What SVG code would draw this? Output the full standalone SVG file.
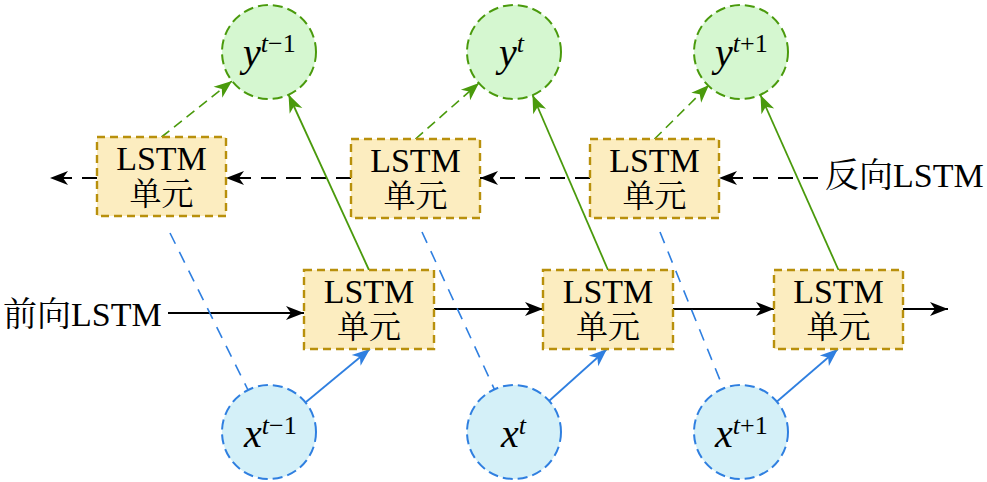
<svg xmlns="http://www.w3.org/2000/svg" width="987" height="482" viewBox="0 0 987 482">
<defs>
<marker id="ak" markerUnits="userSpaceOnUse" markerWidth="24" markerHeight="20" viewBox="-20 -10 24 20" refX="0" refY="0" orient="auto"><path d="M0,0 L-18,-7 L-13,0 L-18,7 Z" fill="#000"/></marker>
<marker id="ag" markerUnits="userSpaceOnUse" markerWidth="24" markerHeight="20" viewBox="-20 -10 24 20" refX="0" refY="0" orient="auto"><path d="M0,0 L-18,-7 L-13,0 L-18,7 Z" fill="#4a9a0c"/></marker>
<marker id="ab" markerUnits="userSpaceOnUse" markerWidth="24" markerHeight="20" viewBox="-20 -10 24 20" refX="0" refY="0" orient="auto"><path d="M0,0 L-18,-7 L-13,0 L-18,7 Z" fill="#2f7fe0"/></marker>
</defs>
<rect width="987" height="482" fill="#fff"/>

<g id="connectors" fill="none">
<g stroke="#000" stroke-width="2" marker-end="url(#ak)">
<line x1="168" y1="313" x2="304" y2="313"/>
<line x1="434" y1="309" x2="543" y2="309"/>
<line x1="673" y1="309" x2="774" y2="309"/>
<line x1="903" y1="309" x2="948" y2="309"/>
</g>
<g stroke="#000" stroke-width="2" stroke-dasharray="15 10" marker-end="url(#ak)">
<line x1="818" y1="178" x2="719" y2="178"/>
<line x1="590" y1="178" x2="480" y2="178"/>
<line x1="351" y1="178" x2="226" y2="178"/>
<line x1="97" y1="178" x2="50" y2="178"/>
</g>
<g stroke="#4a9a0c" stroke-width="1.6" stroke-dasharray="10 6" marker-end="url(#ag)">
<line x1="161.5" y1="137" x2="232" y2="81"/>
<line x1="415.5" y1="139" x2="479" y2="83"/>
<line x1="654.5" y1="139" x2="709" y2="85"/>
</g>
<g stroke="#4a9a0c" stroke-width="1.8" marker-end="url(#ag)">
<line x1="369" y1="270" x2="288.5" y2="94.5"/>
<line x1="608" y1="270" x2="532.5" y2="95"/>
<line x1="838.5" y1="270" x2="760.5" y2="95"/>
</g>
<g stroke="#2f7fe0" stroke-width="1.8" marker-end="url(#ab)">
<line x1="306" y1="402" x2="370" y2="349"/>
<line x1="549" y1="401" x2="607" y2="349"/>
<line x1="777" y1="401.5" x2="838" y2="349"/>
</g>
<g stroke="#2f7fe0" stroke-width="1.6" stroke-dasharray="12 9">
<line x1="170" y1="233" x2="248" y2="390"/>
<line x1="422" y1="232" x2="494.4" y2="389.3"/>
<line x1="660" y1="232" x2="723.4" y2="388.4"/>
</g>
</g>

<g id="label-forward"><text x="3" y="326" style="font-family:'Liberation Serif','Noto Serif CJK SC','Noto Sans CJK SC',serif !important;font-size:34px">前向LSTM</text></g>
<g id="label-backward"><text x="825" y="187" style="font-family:'Liberation Serif','Noto Serif CJK SC','Noto Sans CJK SC',serif !important;font-size:34px">反向LSTM</text></g>

<g fill="#fcedc0" stroke="#b8900c" stroke-width="2.4" stroke-dasharray="8 5">
<rect id="b1-rect" x="97" y="137" width="129" height="79"/>
<rect id="b2-rect" x="351" y="139" width="129" height="79"/>
<rect id="b3-rect" x="590" y="139" width="129" height="79"/>
<rect id="f1-rect" x="304" y="270" width="130" height="79"/>
<rect id="f2-rect" x="543" y="270" width="130" height="79"/>
<rect id="f3-rect" x="774" y="270" width="129" height="79"/>
</g>
<g text-anchor="middle" fill="#000">
<g id="b1"><text x="161.5" y="170" style="font-family:'Liberation Serif',serif !important;font-size:34px">LSTM</text><text x="161.5" y="205" style="font-family:'Noto Serif CJK SC','Noto Sans CJK SC',serif !important;font-size:32px">单元</text></g>
<g id="b2"><text x="415.5" y="172" style="font-family:'Liberation Serif',serif !important;font-size:34px">LSTM</text><text x="415.5" y="207" style="font-family:'Noto Serif CJK SC','Noto Sans CJK SC',serif !important;font-size:32px">单元</text></g>
<g id="b3"><text x="654.5" y="172" style="font-family:'Liberation Serif',serif !important;font-size:34px">LSTM</text><text x="654.5" y="207" style="font-family:'Noto Serif CJK SC','Noto Sans CJK SC',serif !important;font-size:32px">单元</text></g>
<g id="f1"><text x="369" y="303" style="font-family:'Liberation Serif',serif !important;font-size:34px">LSTM</text><text x="369" y="338" style="font-family:'Noto Serif CJK SC','Noto Sans CJK SC',serif !important;font-size:32px">单元</text></g>
<g id="f2"><text x="608" y="303" style="font-family:'Liberation Serif',serif !important;font-size:34px">LSTM</text><text x="608" y="338" style="font-family:'Noto Serif CJK SC','Noto Sans CJK SC',serif !important;font-size:32px">单元</text></g>
<g id="f3"><text x="838.5" y="303" style="font-family:'Liberation Serif',serif !important;font-size:34px">LSTM</text><text x="838.5" y="338" style="font-family:'Noto Serif CJK SC','Noto Sans CJK SC',serif !important;font-size:32px">单元</text></g>
</g>

<g fill="#d5f7d0" stroke="#4a9a0c" stroke-width="2" stroke-dasharray="10 5">
<circle id="y1-c" cx="269" cy="52" r="47"/>
<circle id="y2-c" cx="514" cy="52" r="47"/>
<circle id="y3-c" cx="741" cy="52" r="47"/>
</g>
<g fill="#d4f0f8" stroke="#2f7fe0" stroke-width="2" stroke-dasharray="10 5">
<circle id="x1-c" cx="269" cy="432" r="47"/>
<circle id="x2-c" cx="514" cy="432" r="47"/>
<circle id="x3-c" cx="741" cy="432" r="47"/>
</g>
<g fill="#000">
<g id="y1"><text x="243" y="66" style="font-family:'Liberation Serif',serif !important;font-size:40px;font-style:italic">y<tspan font-size="26" dy="-14">t</tspan><tspan font-size="26" font-style="normal">−1</tspan></text></g>
<g id="y2"><text x="499" y="66" style="font-family:'Liberation Serif',serif !important;font-size:40px;font-style:italic">y<tspan font-size="26" dy="-14">t</tspan></text></g>
<g id="y3"><text x="715" y="66" style="font-family:'Liberation Serif',serif !important;font-size:40px;font-style:italic">y<tspan font-size="26" dy="-14">t</tspan><tspan font-size="26" font-style="normal">+1</tspan></text></g>
<g id="x1"><text x="244" y="447" style="font-family:'Liberation Serif',serif !important;font-size:40px;font-style:italic">x<tspan font-size="26" dy="-13">t</tspan><tspan font-size="26" font-style="normal">−1</tspan></text></g>
<g id="x2"><text x="501" y="447" style="font-family:'Liberation Serif',serif !important;font-size:40px;font-style:italic">x<tspan font-size="26" dy="-13">t</tspan></text></g>
<g id="x3"><text x="715" y="447" style="font-family:'Liberation Serif',serif !important;font-size:40px;font-style:italic">x<tspan font-size="26" dy="-13">t</tspan><tspan font-size="26" font-style="normal">+1</tspan></text></g>
</g>
</svg>
